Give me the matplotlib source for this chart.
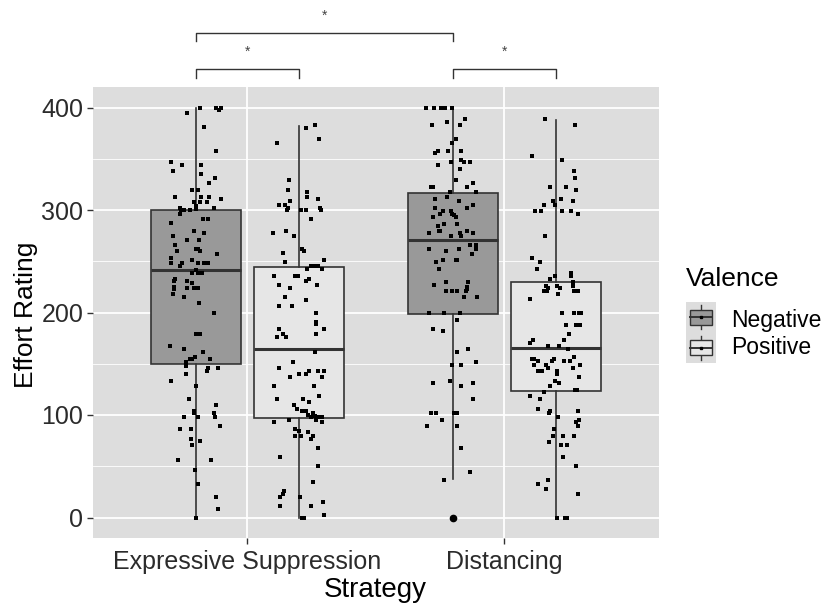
import numpy as np
import matplotlib
matplotlib.use("Agg")
import matplotlib.pyplot as plt
from matplotlib.patches import Rectangle

plt.rcParams['font.family'] = ['Liberation Sans', 'DejaVu Sans']

strategies = ['Expressive Suppression', 'Distancing']
valences = ['Negative', 'Positive']

# box statistics: lower whisker, q1, median, q3, upper whisker
es_neg_box = [0, 150, 241, 300, 400]
es_pos_box = [0, 97, 164, 244, 382]
di_neg_box = [38, 199, 271, 317, 400]
di_pos_box = [0, 123, 165, 230, 388]
di_neg_outliers = [0]

# jittered raw ratings: horizontal jitter (category units) and rating
es_neg_dx = [0.017, -0.034, 0.08, 0.089, 0.099, 0.033, 0.08, -0.095, -0.054, 0.021,
             -0.09, 0.021, 0.073, 0.052, -0.014, 0.007, -0.08, 0.021, 0.052, 0.099,
             -0.008, 0.017, 0.043, 0.0, -0.063, -0.058, -0.047, -0.024, 0.002, 0.069,
             -0.06, 0.028, 0.047, -0.095, -0.008, 0.033, -0.09, -0.034, 0.012, -0.08,
             0.0, 0.007, 0.017, -0.073, 0.082, -0.095, -0.095, -0.054, -0.014, 0.007,
             0.033, 0.047, -0.06, 0.0, -0.014, 0.007, 0.025, -0.08, -0.083, -0.034,
             -0.014, -0.083, -0.086, -0.034, -0.008, 0.008, -0.09, -0.047, 0.012,
             0.069, 0.002, 0.017, -0.099, -0.045, 0.028, -0.003, -0.024, -0.014, 0.054,
             -0.04, -0.04, 0.049, 0.043, 0.085, -0.04, -0.095, 0.002, -0.028, 0.08,
             -0.008, -0.008, -0.045, 0.007, 0.069, 0.074, 0.095, -0.06, -0.019, -0.019,
             0.017, -0.014, -0.069, 0.059, -0.003, 0.007, 0.08, 0.085, 0.002]
es_neg_y = [400, 395, 400, 398, 400, 381, 358, 347, 344, 344,
            338, 335, 331, 326, 320, 320, 313, 313, 313, 311,
            308, 308, 308, 304, 302, 300, 300, 300, 301, 302,
            296, 291, 291, 287, 280, 278, 275, 271, 271, 266,
            262, 262, 260, 260, 257, 253, 248, 248, 251, 248,
            248, 248, 245, 241, 239, 239, 239, 233, 231, 231,
            229, 225, 223, 224, 224, 224, 218, 215, 209,
            200, 179, 179, 167, 164, 161, 157, 155, 155, 155,
            152, 148, 146, 143, 146, 140, 133, 128, 116, 110,
            104, 102, 98, 98, 102, 98, 89, 86, 86, 77,
            75, 71, 56, 56, 46, 33, 20, 8, 0]

es_pos_dx = [0.028, 0.065, 0.08, -0.084, -0.039, -0.043, 0.032, 0.032, 0.074, -0.032,
             -0.078, -0.053, -0.04, -0.045, 0.009, 0.028, 0.084, 0.087, 0.048, -0.098,
             -0.049, -0.017, -0.062, 0.012, 0.019, -0.053, 0.1, 0.032, 0.048, 0.058,
             0.074, 0.089, -0.094, -0.014, -0.004, 0.039, 0.028, -0.078, -0.032, 0.07,
             -0.053, 0.028, -0.075, -0.026,
             0.067, 0.067, 0.067, 0.1, -0.078, -0.062, -0.084, -0.049, 0.067, 0.063,
             -0.023, -0.078, 0.039, 0.074, 0.1, -0.032, 0.003, 0.028, 0.089, -0.094,
             0.058, 0.08, -0.084, 0.018, 0.039, -0.017, -0.008, 0.013, 0.028, 0.054,
             0.035, 0.048, 0.065, 0.08, 0.089, 0.067, -0.094, -0.039, 0.089, -0.013,
             0.003, 0.035, 0.054, 0.048, -0.013, 0.009, 0.074, -0.074, 0.074, 0.054,
             -0.058, -0.062, -0.074, 0.005, 0.096, -0.074, 0.048, 0.012, 0.022, 0.1]
es_pos_y = [380, 383, 369, 365, 329, 320, 318, 313, 311, 309,
            305, 305, 302, 300, 300, 300, 302, 300, 291, 278,
            280, 275, 258, 262, 260, 249, 251, 242, 245, 245,
            245, 242, 236, 236, 236, 233, 231, 227, 224, 227,
            215, 212, 206, 206,
            200, 191, 189, 184, 184, 179, 176, 176, 179, 161,
            152, 146, 143, 143, 143, 137, 140, 140, 137, 128,
            128, 119, 116, 116, 113, 110, 106, 104, 104, 102,
            100, 98, 99, 98, 98, 95, 93, 95, 93, 86,
            84, 83, 80, 77, 80, 80, 68, 59, 50, 35,
            26, 23, 20, 20, 15, 11, 11, 0, 0, 2]

di_neg_dx = [-0.105, -0.075, -0.045, -0.03, -0.004, -0.08, -0.023, 0.028, 0.048, 0.013,
             -0.004, -0.071, -0.058, -0.017, 0.032, 0.032, 0.044, 0.067, -0.008, -0.058,
             0.028, 0.013, -0.085, -0.079, 0.054, 0.078, 0.091, -0.013, -0.023, -0.069,
             0.023, 0.078, 0.054, -0.069, -0.039, -0.008, -0.049, -0.004, 0.003, 0.013,
             -0.079, -0.034, 0.018, -0.056, -0.052, -0.049, 0.028, -0.094, 0.054, 0.078,
             -0.008, 0.032, -0.094, 0.023, 0.067, 0.091, 0.091, -0.028, 0.074, -0.039,
             0.013, 0.018, -0.065, -0.053, -0.075, -0.028, 0.058, 0.054, 0.054, 0.052,
             -0.028, -0.003, 0.018, 0.043, 0.093,
             -0.094, -0.034, 0.028, 0.018, -0.079, -0.039, 0.018, 0.058, 0.091, -0.004,
             0.032, -0.079, -0.013, 0.032, 0.078, 0.078, -0.085, -0.065, 0.005, 0.016,
             -0.043, -0.101, 0.018, 0.032, 0.067, -0.034]
di_neg_y = [400, 400, 400, 400, 400, 383, 386, 383, 389, 369,
            365, 356, 358, 358, 358, 349, 347, 347, 347, 344,
            340, 329, 322, 322, 322, 326, 318, 318, 313, 311,
            309, 305, 302, 302, 299, 299, 296, 296, 295, 293,
            293, 286, 286, 284, 280, 280, 278, 278, 280, 278,
            275, 275, 262, 262, 266, 266, 262, 260, 257, 251,
            251, 251, 249, 242, 227, 230, 230, 225, 223, 221,
            221, 221, 221, 215, 215,
            200, 200, 200, 193, 184, 182, 161, 164, 152, 149,
            149, 131, 133, 128, 131, 116, 102, 102, 102, 102,
            95, 89, 89, 68, 44, 37]

di_pos_dx = [-0.043, 0.075, -0.093, 0.023, 0.07, 0.075, -0.021, 0.04, 0.08, -0.012,
             0.021, 0.066, -0.047, -0.003, -0.079, -0.057, 0.025, 0.06, 0.085, -0.043,
             -0.093, -0.062, -0.072, -0.003, -0.021, 0.06, 0.06, 0.067, 0.066, -0.038,
             -0.031, 0.005, 0.018, -0.047, -0.034, 0.07, 0.085, 0.008, -0.098,
             0.025, 0.07, 0.092, 0.098, 0.04, 0.08, 0.096, 0.05, 0.034, -0.098,
             -0.087, -0.031, 0.014, 0.047, -0.092, -0.083, -0.067, -0.005, -0.016, 0.034,
             0.057, 0.07, -0.083, -0.038, 0.096, -0.07, -0.054, -0.031, 0.005, 0.066,
             0.005, 0.092, -0.001, 0.014, -0.021, 0.076, 0.083, -0.098, -0.047, -0.062,
             -0.069, -0.021, -0.027, 0.085, 0.008, 0.092, 0.08, 0.085, -0.005, -0.012,
             0.03, 0.07, -0.027, 0.021, 0.044, 0.03, 0.08, -0.069, -0.031, -0.038,
             0.085, 0.005, 0.036, 0.044]
di_pos_y = [389, 383, 353, 349, 338, 331, 322, 322, 320, 309,
            311, 309, 305, 305, 299, 299, 299, 299, 296, 275,
            253, 249, 242, 236, 233, 239, 236, 230, 226, 226,
            224, 226, 224, 221, 221, 221, 221, 218, 213,
            200, 200, 200, 200, 188, 188, 188, 179, 173, 170,
            173, 167, 167, 164, 155, 155, 153, 155, 153, 153,
            153, 157, 149, 149, 149, 143, 143, 146, 143, 146,
            140, 137, 133, 131, 128, 124, 124, 119, 122, 116,
            106, 104, 102, 104, 98, 95, 93, 89, 86, 80,
            80, 80, 74, 71, 71, 59, 50, 33, 37, 28,
            23, 0, 0, 0]

box_colors = {'Negative': '#999999', 'Positive': '#e6e6e6'}
edge = '#333333'

fig = plt.figure(figsize=(8.3, 6.04), dpi=100)
ax = fig.add_axes([93 / 830, 1 - 538 / 604, 565.5 / 830, 451 / 604])
ax.set_facecolor('#dddddd')

def stats(b, fl=()):
    return dict(whislo=b[0], q1=b[1], med=b[2], q3=b[3], whishi=b[4], fliers=list(fl))

groups = [
    (1 - 0.2, es_neg_box, [], 'Negative', es_neg_dx, es_neg_y),
    (1 + 0.2, es_pos_box, [], 'Positive', es_pos_dx, es_pos_y),
    (2 - 0.2, di_neg_box, di_neg_outliers, 'Negative', di_neg_dx, di_neg_y),
    (2 + 0.2, di_pos_box, [], 'Positive', di_pos_dx, di_pos_y),
]

for pos, b, fl, val, dx, yy in groups:
    bp = ax.bxp([stats(b, fl)], positions=[pos], widths=0.35, showcaps=False,
                patch_artist=True,
                boxprops=dict(facecolor=box_colors[val], edgecolor=edge, linewidth=1.2),
                whiskerprops=dict(color=edge, linewidth=1.2),
                medianprops=dict(color=edge, linewidth=2.2),
                flierprops=dict(marker='o', markerfacecolor='black', markeredgecolor='black',
                                markersize=4.5))
    for art in bp['boxes'] + bp['whiskers'] + bp['medians']:
        art.set_zorder(3)
    ax.scatter(pos + np.array(dx), yy, s=7, color='black', marker='s', linewidths=0, zorder=4)

ax.set_xlim(0.4, 2.6)
ax.set_ylim(-20, 420)
ax.set_yticks([0, 100, 200, 300, 400])
ax.set_yticks([50, 150, 250, 350], minor=True)
ax.set_xticks([1, 2])
ax.set_xticklabels(strategies)
ax.grid(which='major', color='white', linewidth=1.3, zorder=0)
ax.grid(which='minor', axis='y', color='white', linewidth=0.6, zorder=0)
ax.set_axisbelow(True)
for s in ax.spines.values():
    s.set_visible(False)
ax.tick_params(axis='both', which='major', length=4, width=1, color='#333333',
               labelsize=18, labelcolor='#2b2b2b')
ax.tick_params(axis='x', which='major', pad=5)
ax.tick_params(axis='y', which='major', pad=3)
ax.tick_params(axis='both', which='minor', length=0)

# axis titles
fig.text(375 / 830, 1 - 597 / 604, 'Strategy', fontsize=20, ha='center', va='baseline')
fig.text(33 / 830, 1 - 315 / 604, 'Effort Rating', fontsize=19, rotation=90,
         rotation_mode='anchor', ha='center', va='baseline')

# significance brackets above the panel
brackets = [(0.8, 1.8, 472.7, 464.5), (0.8, 1.2, 437.7, 428.9), (1.8, 2.2, 437.7, 428.9)]
for x0, x1, ytop, ytip in brackets:
    ax.plot([x0, x0, x1, x1], [ytip, ytop, ytop, ytip], color='#333333', linewidth=1.0,
            clip_on=False)
    ax.text((x0 + x1) / 2, ytop + 17, '*', ha='center', va='center', fontsize=10,
            color='#444444', clip_on=False)

# legend
fig.text(686 / 830, 1 - 279 / 604, 'Valence', fontsize=19, ha='left', va='center')
lax = fig.add_axes([686 / 830, 1 - 363 / 604, 30 / 830, 61 / 604])
lax.set_facecolor('#dddddd')
lax.set_xlim(0, 1)
lax.set_ylim(0, 2)
lax.set_xticks([])
lax.set_yticks([])
for s in lax.spines.values():
    s.set_visible(False)
for i, val in enumerate(valences):
    base = 1 - i
    lax.plot([0.5, 0.5], [base + 0.1, base + 0.9], color=edge, linewidth=1.0)
    lax.add_patch(Rectangle((0.12, base + 0.25), 0.76, 0.5, facecolor=box_colors[val],
                            edgecolor=edge, linewidth=1.0, zorder=3))
    lax.plot([0.12, 0.88], [base + 0.5, base + 0.5], color=edge, linewidth=1.4, zorder=4)
    lax.plot([0.5], [base + 0.5], marker='s', markersize=1.5, color='black', zorder=5)
    fig.text(731 / 830, 1 - (320 + 28 * i) / 604, val, fontsize=16.5, ha='left', va='center')

fig.savefig('out.png', dpi=100)
